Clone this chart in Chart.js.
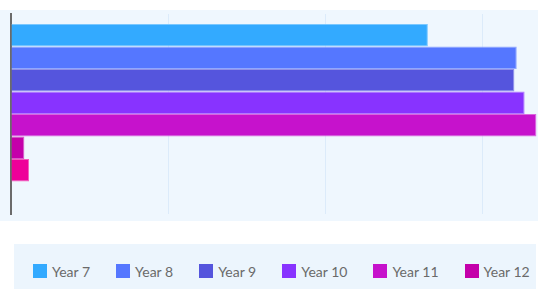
<!DOCTYPE html>
<html>
<head>
<meta charset="utf-8">
<script src="https://cdn.jsdelivr.net/npm/chart.js@4/dist/chart.umd.min.js"></script>
<style>
  html, body { margin: 0; padding: 0; background: #fff; overflow: hidden; }
  body { width: 538px; height: 289px; position: relative; font-family: Lato, sans-serif; }
  #plotBox { position: absolute; left: 0; top: 10px; width: 538px; height: 211px; background: #eff7fe; }
  #legendBox {
    position: absolute; left: 14px; top: 244px; width: 522px; height: 54px;
    background: #ecf5fd; overflow: hidden;
  }
  #legendBox ul { list-style: none; margin: 0; padding: 0 0 0 19px; height: 54px;
    display: flex; align-items: center; white-space: nowrap; }
  #legendBox li { display: flex; align-items: center; margin-right: 26px; flex: none;
    font-size: 14px; color: #6a6a6a; }
  #legendBox li span.box { width: 14px; height: 14px; margin-right: 5px; display: inline-block; }
</style>
</head>
<body>
<div id="plotBox"><canvas id="chart"></canvas></div>
<div id="legendBox"></div>
<script>
/* data */
var categories   = ['Students'];
var seriesNames  = ['Year 7', 'Year 8', 'Year 9', 'Year 10', 'Year 11', 'Year 12', 'Year 13', 'Year 14'];
var seriesValues = [265, 321.5, 320, 326.5, 334, 8.5, 11.5, 0];
var seriesColors = ['#33aaff', '#5577ff', '#5555dd', '#8833ff', '#c612cc', '#c400aa', '#ee0099', '#ff3377'];
var tickValues   = [0, 100, 200, 300];
var axisMax      = 335;

function lighten(hex, amt) {
    var n = parseInt(hex.slice(1), 16);
    var r = (n >> 16) & 255, g = (n >> 8) & 255, b = n & 255;
    r = Math.round(r + (255 - r) * amt);
    g = Math.round(g + (255 - g) * amt);
    b = Math.round(b + (255 - b) * amt);
    return 'rgb(' + r + ',' + g + ',' + b + ')';
}

/* html legend, one row, clipped by its box */
var htmlLegend = {
    id: 'htmlLegend',
    afterUpdate: function (chart) {
        var box = document.getElementById('legendBox');
        box.innerHTML = '';
        var ul = document.createElement('ul');
        var items = chart.options.plugins.legend.labels.generateLabels(chart);
        items.forEach(function (item) {
            var li = document.createElement('li');
            var sw = document.createElement('span');
            sw.className = 'box';
            sw.style.background = seriesColors[item.datasetIndex];
            li.appendChild(sw);
            li.appendChild(document.createTextNode(item.text));
            ul.appendChild(li);
        });
        box.appendChild(ul);
    }
};

var datasets = seriesNames.map(function (name, i) {
    return {
        label: name,
        data: [seriesValues[i]],
        backgroundColor: seriesColors[i],
        borderColor: lighten(seriesColors[i], 0.35),
        borderWidth: 1,
        borderSkipped: 'start'
    };
});

new Chart(document.getElementById('chart').getContext('2d'), {
    type: 'bar',
    data: { labels: categories, datasets: datasets },
    options: {
        indexAxis: 'y',
        responsive: true,
        maintainAspectRatio: false,
        animation: false,
        layout: { padding: { left: 11, top: 4, bottom: 7, right: 0 } },
        datasets: { bar: { barPercentage: 1, categoryPercentage: 0.9 } },
        plugins: {
            legend: { display: false },
            tooltip: { enabled: false }
        },
        scales: {
            x: {
                min: 0,
                max: axisMax,
                afterBuildTicks: function (scale) {
                    scale.ticks = tickValues.map(function (v) { return { value: v }; });
                },
                afterFit: function (scale) { scale.height = 0; },
                ticks: { display: false },
                border: { display: false },
                grid: { color: '#dcebfa', lineWidth: 1, drawTicks: false }
            },
            y: {
                afterFit: function (scale) { scale.width = 0; },
                ticks: { display: false },
                grid: { display: false, drawTicks: false },
                border: { display: true, color: '#6b6b6b', width: 2 }
            }
        }
    },
    plugins: [htmlLegend]
});
</script>
</body>
</html>
